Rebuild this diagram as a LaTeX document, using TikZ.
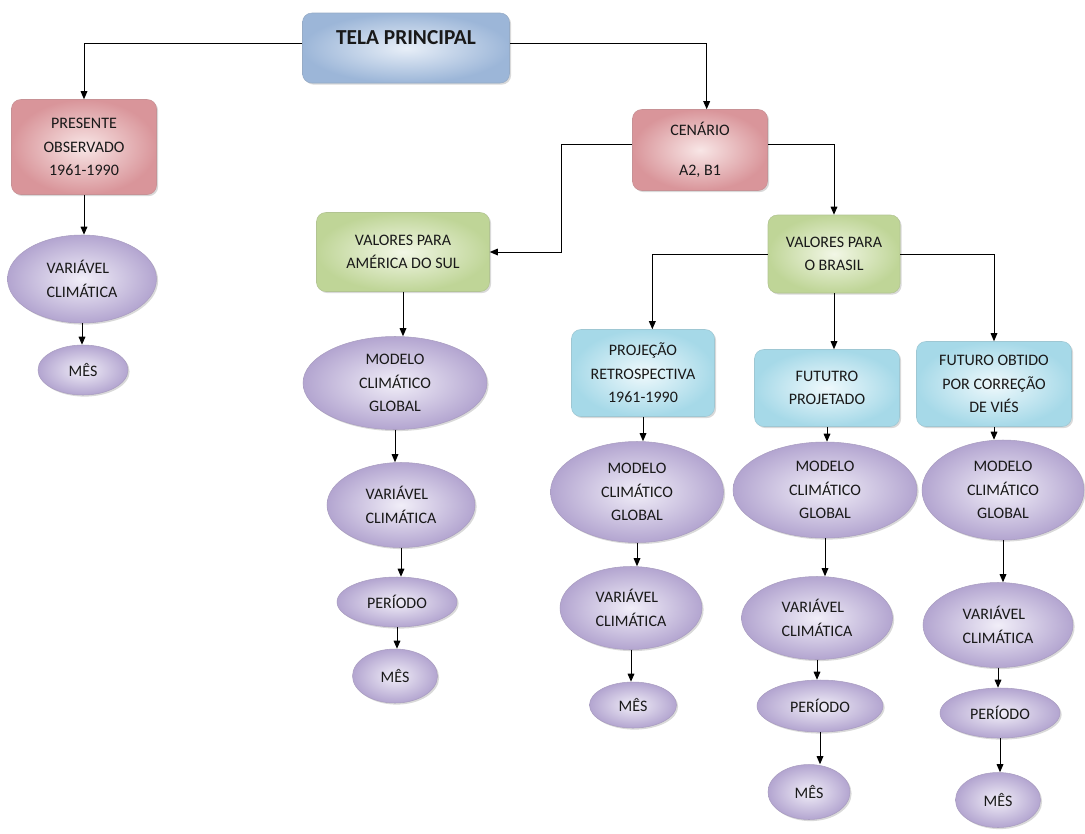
\documentclass[tikz,border=0pt]{standalone}
\usepackage{fontspec}
\setmainfont{Carlito}
\usetikzlibrary{shapes.geometric,shadows,arrows.meta}
\definecolor{pink edge}{HTML}{D9959A}
\definecolor{pink core}{HTML}{F8E6E6}
\definecolor{blue edge}{HTML}{9CB6D8}
\definecolor{blue core}{HTML}{E8EFF8}
\definecolor{green edge}{HTML}{BFD597}
\definecolor{green core}{HTML}{F2F7E6}
\definecolor{cyan edge}{HTML}{A6D9E8}
\definecolor{cyan core}{HTML}{EFF9FC}
\definecolor{lilac edge}{HTML}{B3A5D0}
\definecolor{lilac core}{HTML}{F1EEF8}
\tikzset{sz/.style 2 args={minimum width=#1*0.75pt, minimum height=#2*0.75pt},
    soft/.style={drop shadow={shadow xshift=1.2pt, shadow yshift=-1.2pt, opacity=0.3}},
    card/.style={rectangle, rounded corners=7pt, align=center, soft,
        text=black!90, font=\fontsize{12}{17.5}\selectfont},
    pink card/.style={card, inner color=pink core, outer color=pink edge, draw=pink edge!80!gray},
    blue card/.style={card, inner color=blue core, outer color=blue edge, draw=blue edge!80!gray},
    green card/.style={card, inner color=green core, outer color=green edge, draw=green edge!80!gray},
    cyan card/.style={card, inner color=cyan core, outer color=cyan edge, draw=cyan edge!80!gray},
    bubble/.style={ellipse, inner sep=0pt, align=center, soft,
        inner color=lilac core, outer color=lilac edge, draw=lilac edge!80!gray,
        text=black!90, font=\fontsize{12}{17.5}\selectfont},
    flow/.style={-{Triangle[length=6pt,width=5pt]}, line width=0.75pt}}

\begin{document}
\begin{tikzpicture}[x=0.75pt,y=-0.75pt]
    \useasboundingbox (0,0) rectangle (1085,833);
    % boxes
    \node[blue card, sz={207}{70}, font=\bfseries\fontsize{16}{18}\selectfont,
          text height=10pt, text depth=16pt] (tela) at (406,48) {TELA PRINCIPAL};
    \node[pink card, sz={145}{95}] (presente) at (84,147) {PRESENTE\\OBSERVADO\\1961-1990};
    \node[pink card, sz={135}{81}] (cenario) at (700,150) {CENÁRIO\\[13pt]A2, B1};
    \node[green card, sz={173}{79}] (america) at (403,252) {VALORES PARA\\AMÉRICA DO SUL};
    \node[green card, sz={132}{78}] (brasil) at (834,254) {VALORES PARA\\O BRASIL};
    \node[cyan card, sz={143}{87}] (projecao) at (643,373) {PROJEÇÃO\\RETROSPECTIVA\\1961-1990};
    \node[cyan card, sz={145}{77}] (fututro) at (827,388) {FUTUTRO\\PROJETADO};
    \node[cyan card, sz={155}{85}] (futuro) at (994,384) {FUTURO OBTIDO\\POR CORREÇÃO\\DE VIÉS};
    % ellipses
    \node[bubble, sz={149}{88}, align=left] (varP) at (82,279) {VARIÁVEL\\CLIMÁTICA};
    \node[bubble, sz={90}{50}] (mesP) at (83,370) {MÊS};
    \node[bubble, sz={184}{93}] (modA) at (395,383) {MODELO\\CLIMÁTICO\\GLOBAL};
    \node[bubble, sz={148}{85}, align=left] (varA) at (401,505) {VARIÁVEL\\CLIMÁTICA};
    \node[bubble, sz={120}{50}] (perA) at (397,602) {PERÍODO};
    \node[bubble, sz={85}{54}] (mesA) at (395,676) {MÊS};
    \node[bubble, sz={173}{101}] (modR) at (637,492) {MODELO\\CLIMÁTICO\\GLOBAL};
    \node[bubble, sz={142}{83}, align=left] (varR) at (631,608) {VARIÁVEL\\CLIMÁTICA};
    \node[bubble, sz={87}{46}] (mesR) at (633,705) {MÊS};
    \node[bubble, sz={184}{96}] (modF) at (825,490) {MODELO\\CLIMÁTICO\\GLOBAL};
    \node[bubble, sz={151}{83}, align=left] (varF) at (817,618) {VARIÁVEL\\CLIMÁTICA};
    \node[bubble, sz={126}{52}] (perF) at (820,706) {PERÍODO};
    \node[bubble, sz={82}{55}] (mesF) at (809,792) {MÊS};
    \node[bubble, sz={162}{100}] (modC) at (1003,490) {MODELO\\CLIMÁTICO\\GLOBAL};
    \node[bubble, sz={150}{85}, align=left] (varC) at (998,625) {VARIÁVEL\\CLIMÁTICA};
    \node[bubble, sz={120}{50}] (perC) at (1000,713) {PERÍODO};
    \node[bubble, sz={85}{55}] (mesC) at (998,800) {MÊS};
    % connectors
    \draw[flow] ([yshift=3.75pt]tela.west) -| (presente.north);
    \draw[flow] ([yshift=3.75pt]tela.east) -| ([xshift=5pt]cenario.north);
    \draw[flow] ([yshift=4.5pt]cenario.west) -- ++(-71,0) |- (america.east);
    \draw[flow] ([yshift=4.5pt]cenario.east) -| (brasil.north);
    \draw[flow] (brasil.west) -| ([xshift=7pt]projecao.north);
    \draw[flow] (brasil.east) -| (futuro.north);
    \foreach \a/\b in {brasil/fututro, presente/varP, varP/mesP,
                       america/modA, modA/varA, varA/perA, perA/mesA,
                       projecao/modR, modR/varR, varR/mesR,
                       fututro/modF, modF/varF, varF/perF, perF/mesF,
                       futuro/modC, modC/varC, varC/perC, perC/mesC}
        \draw[flow] (\a.south) -- (\a.south |- \b.north);
\end{tikzpicture}
\end{document}
